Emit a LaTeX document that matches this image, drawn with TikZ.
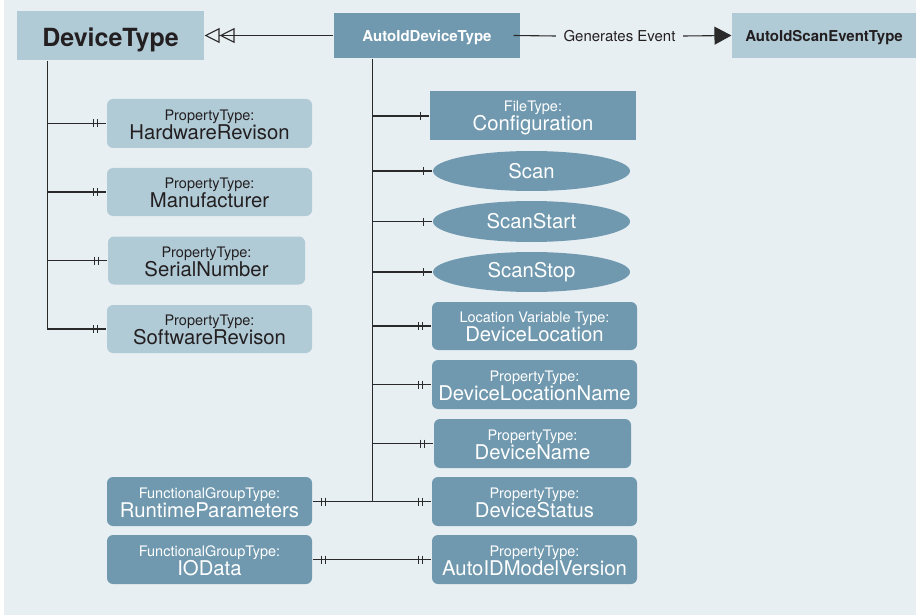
\documentclass[tikz,border=0pt]{standalone}
\usepackage{fontspec}
\setmainfont{TeX Gyre Heros}
\usetikzlibrary{arrows.meta,shapes.geometric,calc}
\definecolor{bgc}{HTML}{E8EFF3}
\definecolor{lightbox}{HTML}{B0CAD6}
\definecolor{darkbox}{HTML}{7099AF}
\definecolor{ink}{HTML}{231F20}
\definecolor{linec}{HTML}{2A2A2A}
\newcommand{\twoline}[2]{\rule{0pt}{14.3pt}#1\\{\fontsize{20.3}{19}\selectfont #2\rule[-2pt]{0pt}{2pt}}}
\newcommand{\barat}[2]{\draw[barmark] ($(#1)+(#2,-4)$) -- ($(#1)+(#2,4)$);}
\tikzset{
  boxbase/.style={inner sep=0pt, align=center, font=\fontsize{14.5}{19}\selectfont},
  lt/.style={boxbase, fill=lightbox, text=ink, rounded corners=6pt},
  dk/.style={boxbase, fill=darkbox, text=white, rounded corners=6pt},
  dksq/.style={boxbase, fill=darkbox, text=white},
  ell/.style={ellipse, fill=darkbox, text=white, inner sep=0pt, minimum width=197pt, minimum height=40pt, font=\fontsize{20.3}{24}\selectfont},
  hdrlt/.style={fill=lightbox, text=ink, inner sep=0pt, text height=12.5pt, text depth=0pt, font=\bfseries\fontsize{15}{18}\selectfont},
  hdrdk/.style={fill=darkbox, text=white, inner sep=0pt, text height=12.5pt, text depth=0pt, font=\bfseries\fontsize{15}{18}\selectfont},
  barmark/.style={draw=linec, line width=1pt},
  genarrow/.style={-{Triangle[open,length=15pt,width=15pt,sep=0pt]Triangle[open,length=15pt,width=15pt]}},
  evtarrow/.style={-{Triangle[length=17pt,width=18pt]}},
}
\begin{document}
\begin{tikzpicture}[x=1pt,y=-1pt,line width=1.1pt,draw=linec]
\fill[white] (0,0) rectangle (916,615);
\fill[bgc] (4,0) rectangle (916,615);
\useasboundingbox (0,0) rectangle (916,615);

% header row
\node[hdrlt, minimum width=187pt, minimum height=49pt, text height=22pt, font=\bfseries\fontsize{25}{28}\selectfont] (devtype) at (110.5,35.5) {DeviceType};
\node[hdrdk, minimum width=186pt, minimum height=45pt] (autoid) at (427,35.5) {AutoIdDeviceType};
\node[text=ink, font=\fontsize{15}{18}\selectfont, inner xsep=7pt, inner ysep=0pt] (genlbl) at (619.5,36) {Generates Event};
\node[hdrlt, minimum width=184pt, minimum height=45pt] (scanevt) at (824,35.5) {AutoIdScanEventType};

% DeviceType properties
\node[lt, minimum width=205pt, minimum height=49pt] (hw) at (209.5,123.5) {\twoline{PropertyType:}{HardwareRevison}};
\node[lt, minimum width=205pt, minimum height=48pt] (mf) at (209.5,192) {\twoline{PropertyType:}{Manufacturer}};
\node[lt, minimum width=197pt, minimum height=48pt] (sn) at (206.5,260.5) {\twoline{PropertyType:}{SerialNumber}};
\node[lt, minimum width=205pt, minimum height=48pt] (sw) at (209.5,329) {\twoline{PropertyType:}{SoftwareRevison}};

% AutoIdDeviceType components
\node[dksq, minimum width=206pt, minimum height=49pt] (cfg) at (533,116) {\twoline{FileType:}{Configuration}};
\node[ell] (scan) at (531.5,171) {Scan};
\node[ell, minimum height=41pt] (sstart) at (531.5,221.5) {ScanStart};
\node[ell] (sstop) at (531.5,272) {ScanStop};
\node[dk, minimum width=205pt, minimum height=48pt] (dloc) at (534.5,326) {\twoline{Location Variable Type:}{DeviceLocation}};
\node[dk, minimum width=205pt, minimum height=49pt] (dlocn) at (534.5,384.5) {\twoline{PropertyType:}{DeviceLocationName}};
\node[dk, minimum width=197pt, minimum height=49pt] (dname) at (532.5,443.5) {\twoline{PropertyType:}{DeviceName}};
\node[dk, minimum width=205pt, minimum height=49pt] (ds) at (534.5,501.5) {\twoline{PropertyType:}{DeviceStatus}};
\node[dk, minimum width=205pt, minimum height=49pt] (amv) at (534.5,559.5) {\twoline{PropertyType:}{AutoIDModelVersion}};

\node[dk, minimum width=205pt, minimum height=49pt] (rt) at (209.5,501.5) {\twoline{FunctionalGroupType:}{RuntimeParameters}};
\node[dk, minimum width=205pt, minimum height=49pt] (io) at (209.5,559.5) {\twoline{FunctionalGroupType:}{IOData}};

% header connectors
\draw[genarrow] (autoid.west) -- (devtype.east);
\draw ([xshift=-7pt]autoid.east) -- (genlbl.west);
\draw[evtarrow] (genlbl.east) -- (scanevt.west);

% DeviceType trunk
\coordinate (dtt) at ($(devtype.south west)+(31,0)$);
\draw (dtt) -- (dtt |- sw.west);
\foreach \n in {hw,mf,sn,sw} {
  \draw (dtt |- \n.west) -- (\n.west);
  \barat{\n.west}{-9}\barat{\n.west}{-13}
}

% AutoIdDeviceType trunk
\coordinate (att) at ($(autoid.south west)+(39,0)$);
\draw (att) -- (att |- ds.west);
\foreach \n in {cfg,scan,sstart,sstop} {
  \draw (att |- \n.west) -- (\n.west);
  \barat{\n.west}{-9}
}
\foreach \n in {dloc,dlocn,dname,ds,amv} {
  \barat{\n.west}{-9}\barat{\n.west}{-13}
}
\foreach \n in {dloc,dlocn,dname,ds} \draw (att |- \n.west) -- (\n.west);
\draw (rt.east) -- (att |- rt.east);
\barat{rt.east}{9}\barat{rt.east}{13}
\draw (io.east) -- (amv.west);
\barat{io.east}{9}\barat{io.east}{13}
\end{tikzpicture}
\end{document}
